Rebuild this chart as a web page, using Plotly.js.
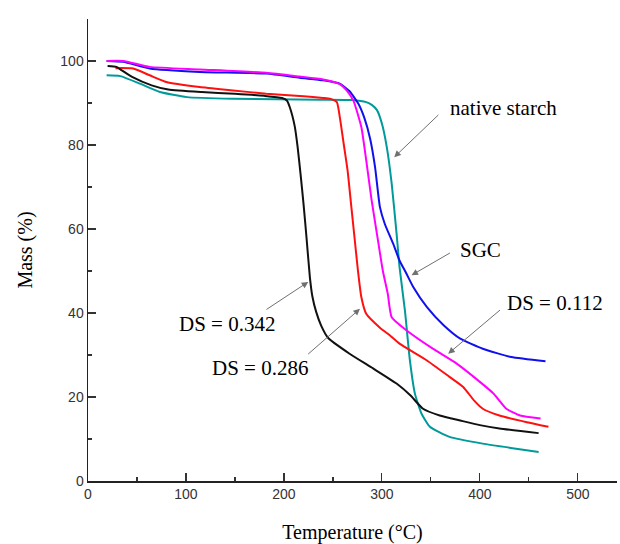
<!DOCTYPE html>
<html>
<head>
<meta charset="utf-8">
<script src="https://cdn.plot.ly/plotly-3.0.1.min.js"></script>
<style>html,body{margin:0;padding:0;background:#fff;}#chart{width:620px;height:544px;}</style>
</head>
<body>
<div id="chart"></div>
<script>
// DS = 0.342 (black)
var ds342X = [20, 29, 33, 45, 65, 82, 116, 150, 180, 198, 203, 206, 211, 214, 217, 220, 223, 226.5, 229, 233, 238, 245, 267, 291, 315, 329, 342, 359, 380, 400, 420, 460];
var ds342Y = [98.8, 98.6, 98.0, 96.2, 94.2, 93.2, 92.6, 92.2, 91.7, 91.2, 90.6, 89.0, 84.5, 79.5, 73.0, 66.0, 58.1, 48.5, 44.0, 40.2, 37.0, 34.1, 30.3, 26.8, 23.2, 20.4, 17.2, 15.6, 14.4, 13.3, 12.5, 11.4];
// DS = 0.286 (red)
var ds286X = [28, 46, 63, 80, 114, 148, 182, 220, 240, 247, 254, 257, 261, 265, 268.5, 272, 275.5, 279, 284, 298, 308, 318, 346, 369, 383, 394, 403, 420, 448, 470];
var ds286Y = [98.3, 98.2, 96.6, 95.0, 93.8, 93.0, 92.2, 91.6, 91.2, 91.0, 90.2, 86.7, 80.3, 73.9, 66.0, 58.1, 50.2, 43.8, 39.8, 36.5, 34.7, 32.7, 28.7, 24.8, 22.4, 19.2, 17.2, 15.6, 14.0, 12.9];
// DS = 0.112 (magenta)
var ds112X = [19, 36, 63, 114, 182, 216, 240, 257, 264, 271, 279, 284, 289.5, 296, 301, 306, 310, 325, 352, 376, 400, 414, 427, 441, 462];
var ds112Y = [100, 100, 98.6, 98.0, 97.2, 96.3, 95.6, 94.5, 93.0, 90.5, 84.3, 76.4, 66.9, 57.3, 50.0, 44.6, 39.0, 35.9, 31.5, 28.0, 23.6, 20.8, 17.2, 15.6, 14.9];
// SGC (blue)
var sgcX = [19, 36, 63, 114, 182, 216, 240, 257, 267, 276, 282, 288, 293, 298, 303, 311.5, 318, 325, 332, 346, 363, 380, 403, 432, 467];
var sgcY = [100, 99.8, 98.2, 97.4, 97.0, 96.0, 95.4, 94.6, 92.8, 89.8, 86.5, 81.5, 74.8, 65.2, 61.2, 56.5, 52.5, 49.4, 46.2, 41.4, 37.1, 33.9, 31.5, 29.5, 28.5];
// native starch (teal)
var nativeX = [19, 33, 53, 73.5, 101, 148, 237, 270, 284, 290, 295, 300, 305, 310, 315, 318, 323.5, 328.6, 333.7, 340.5, 349, 369, 403, 437, 460];
var nativeY = [96.6, 96.4, 94.6, 92.6, 91.4, 91.0, 90.8, 90.7, 90.2, 89.5, 88.3, 85.1, 79.5, 70.8, 58.9, 51.0, 40.6, 28.7, 20.8, 16.0, 12.9, 10.5, 8.9, 7.7, 6.9];

var xTicks = [0, 100, 200, 300, 400, 500];
var yTicks = [0, 20, 40, 60, 80, 100];

function tr(x, y, c) {
  return {x: x, y: y, type: 'scatter', mode: 'lines', line: {color: c, width: 2, shape: 'spline', smoothing: 0.5}, hoverinfo: 'skip', showlegend: false};
}
var data = [
  tr(nativeX, nativeY, '#009a9a'),
  tr(sgcX, sgcY, '#1010ee'),
  tr(ds112X, ds112Y, '#ff00ff'),
  tr(ds286X, ds286Y, '#ff1010'),
  tr(ds342X, ds342Y, '#111111')
];

var serif = 'Liberation Serif, Times New Roman, serif';
var arrowStyle = {showarrow: true, text: '', axref: 'x', ayref: 'y', arrowhead: 2, arrowsize: 1.3, arrowwidth: 1, arrowcolor: '#707070'};
function arrow(x, y, ax, ay) { return Object.assign({x: x, y: y, ax: ax, ay: ay}, arrowStyle); }
function label(t, x, y, anchor) {
  return {x: x, y: y, text: t, showarrow: false, xanchor: anchor || 'center', yanchor: 'middle', font: {family: serif, size: 21, color: '#000'}};
}

var layout = {
  width: 620, height: 544,
  margin: {l: 88, r: 3, t: 19, b: 63},
  paper_bgcolor: '#fff', plot_bgcolor: '#fff',
  font: {family: 'Liberation Sans, Arial, sans-serif', size: 14, color: '#333'},
  xaxis: {
    range: [0, 540], tickvals: xTicks, ticktext: xTicks.map(String),
    showline: true, linecolor: '#222', linewidth: 1.5, showgrid: false, zeroline: false,
    ticks: 'inside', ticklen: 8, tickwidth: 1.2, tickcolor: '#333',
    minor: {ticks: 'inside', ticklen: 4, tickwidth: 1.2, tickcolor: '#333', tick0: 0, dtick: 50},
    tickfont: {family: 'Liberation Sans, Arial, sans-serif', size: 14, color: '#333'},
    title: {text: 'Temperature (\u00B0C)', font: {family: serif, size: 20, color: '#000'}, standoff: 24}
  },
  yaxis: {
    range: [0, 110], tickvals: yTicks, ticktext: yTicks.map(String),
    showline: true, linecolor: '#222', linewidth: 1.5, showgrid: false, zeroline: false,
    ticks: 'inside', ticklen: 8, tickwidth: 1.2, tickcolor: '#333',
    minor: {ticks: 'inside', ticklen: 4, tickwidth: 1.2, tickcolor: '#333', tick0: 0, dtick: 10},
    tickfont: {family: 'Liberation Sans, Arial, sans-serif', size: 14, color: '#333'},
    title: {text: 'Mass (%)', font: {family: serif, size: 20, color: '#000'}, standoff: 22}
  },
  annotations: [
    arrow(312.6, 77.1, 359.2, 87.5),
    arrow(330.3, 49.0, 371, 54.5),
    arrow(367.7, 30.3, 422.1, 41.0),
    arrow(224.8, 47.4, 180.6, 40.6),
    arrow(277.6, 41.0, 223.2, 29.9),
    label('native starch', 367, 88.7, 'left'),
    label('SGC', 401, 55.1),
    label('DS = 0.112', 476.5, 42.4),
    label('DS = 0.342', 141.5, 37.5),
    label('DS = 0.286', 175.8, 26.8)
  ]
};
Plotly.newPlot('chart', data, layout, {staticPlot: true, displayModeBar: false});
</script>
</body>
</html>
